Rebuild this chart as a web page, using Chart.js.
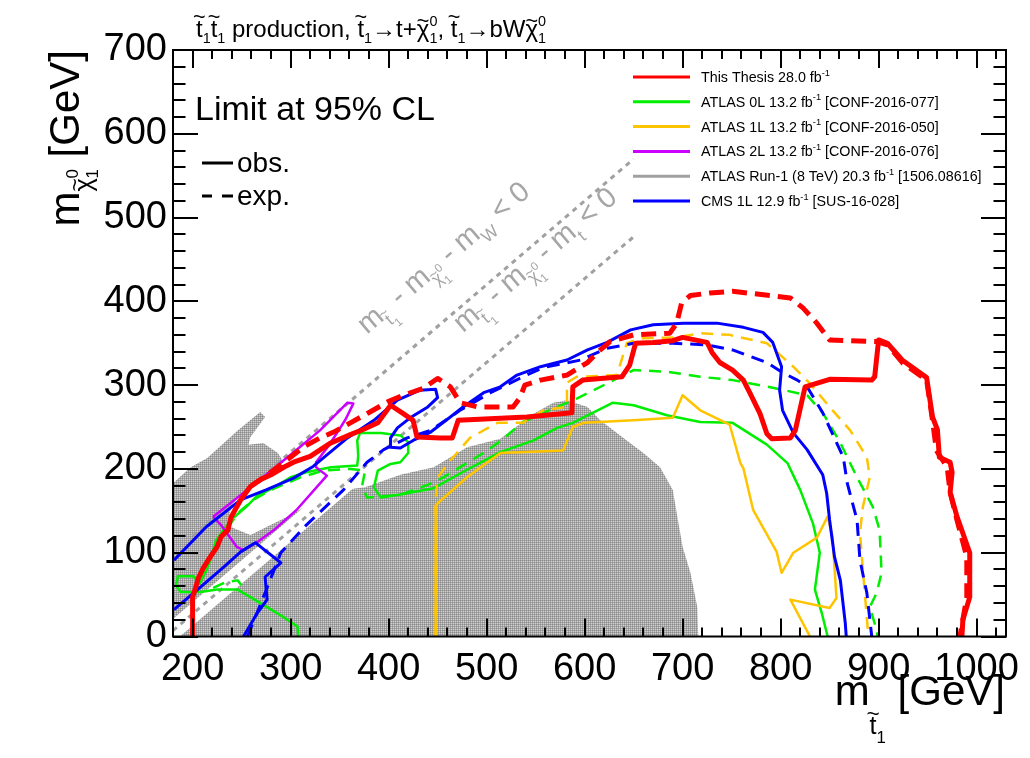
<!DOCTYPE html>
<html>
<head>
<meta charset="utf-8">
<title>Stop pair limits</title>
<script src="https://cdn.jsdelivr.net/npm/chart.js@4.4.1/dist/chart.umd.min.js"></script>
<style>
  html, body { margin: 0; padding: 0; background: #fff; }
</style>
</head>
<body>
<canvas id="chart" width="1030" height="758"></canvas>
<script>
const FONT = '"Liberation Sans", Arial, Helvetica, sans-serif';

// axes
const xRange = [180, 1030];
const yRange = [0, 700];
const xTickLabels = [200, 300, 400, 500, 600, 700, 800, 900, 1000];
const yTickLabels = [0, 100, 200, 300, 400, 500, 600, 700];

// limit contours, [m_stop, m_chi] in GeV
const thesisObs = [[200,0],[200,47],[203,58],[206,70],[211,82],[218,95],[225,107],[229,119],[236,127],[239,142],[249,163],[259,179],[269,187],[280,193],[293,202],[303,208],[320,215],[341,231],[361,241],[374,247],[389,255],[402,276],[415,266],[425,258],[429,238],[453,237],[465,237],[471,258],[541,262],[587,267],[588,298],[598,306],[638,310],[646,324],[652,350],[670,351],[690,353],[700,357],[725,351],[730,339],[738,327],[751,318],[762,306],[769,290],[779,266],[786,242],[791,236],[810,237],[815,246],[825,298],[850,307],[893,306],[896,310],[900,354],[909,350],[924,330],[949,309],[955,262],[960,247],[962,214],[973,208],[975,196],[973,172],[980,143],[993,100],[993,47],[986,20],[985,0]];
const thesisExp = [[259,179],[280,196],[313,226],[330,237],[344,244],[361,255],[381,268],[399,280],[415,288],[435,296],[450,308],[463,298],[473,279],[491,274],[527,274],[534,285],[539,300],[555,306],[582,312],[603,327],[613,339],[626,352],[650,360],[687,362],[694,374],[699,398],[708,407],[728,410],[751,412],[789,407],[810,404],[823,392],[837,374],[850,354],[898,352],[909,348],[925,326],[949,306],[955,258],[959,222],[970,202],[973,172],[980,139],[990,95],[990,47],[983,0]];

const cmsObs = [[181,91],[214,131],[249,163],[275,175],[303,189],[323,203],[358,237],[385,258],[409,282],[432,294],[448,295],[450,285],[440,274],[422,261],[409,249],[402,237],[402,226],[412,225],[425,234],[443,244],[463,262],[476,274],[497,291],[514,298],[531,312],[555,322],[582,330],[603,342],[623,351],[647,366],[670,372],[701,374],[735,374],[762,369],[782,363],[792,351],[801,322],[799,294],[802,270],[813,243],[827,223],[843,193],[847,171],[850,139],[855,95],[861,67],[866,16],[867,0]];
const cmsObsLow = [[252,0],[266,28],[276,44],[274,71],[290,88],[264,112],[249,101],[232,83],[208,59],[181,32]];
const cmsExp = [[256,0],[266,29],[277,61],[290,100],[316,133],[354,175],[378,208],[395,223],[419,237],[443,246],[473,270],[504,291],[537,310],[558,321],[596,330],[623,344],[650,350],[690,350],[725,348],[751,342],[786,327],[802,315],[817,306],[827,298],[843,267],[864,214],[868,183],[878,139],[881,91],[888,52],[893,0]];

const atlas0LObs = [[308,0],[307,12],[293,23],[276,35],[259,47],[246,56],[225,56],[208,53],[188,53],[183,61],[185,72],[201,72],[207,63],[214,79],[218,91],[224,115],[239,139],[255,155],[265,167],[283,178],[300,190],[316,196],[341,202],[368,204],[369,216],[368,234],[371,243],[392,243],[412,240],[420,232],[420,219],[412,208],[402,206],[389,198],[385,178],[392,166],[409,169],[446,177],[480,199],[514,220],[548,234],[572,249],[588,255],[629,279],[650,276],[684,264],[718,256],[751,255],[786,229],[807,207],[820,175],[833,135],[840,100],[835,56],[842,28],[848,0]];
const atlas0LExp = [[224,109],[234,127],[247,148],[262,163],[280,175],[310,190],[334,198],[361,200],[376,198],[373,180],[378,166],[412,169],[440,181],[456,190],[480,207],[501,222],[517,236],[537,256],[568,272],[592,284],[623,302],[650,318],[684,316],[718,310],[751,306],[792,297],[827,288],[843,267],[861,231],[878,190],[894,155],[901,127],[903,76],[898,52],[891,35],[898,8],[899,0]];
const atlas0LExpLow = [[221,58],[234,65],[246,67],[254,55]];

const atlas1LObs = [[448,0],[448,155],[450,159],[480,190],[514,219],[578,222],[588,250],[599,255],[650,258],[690,261],[700,288],[718,270],[748,253],[759,207],[762,201],[772,151],[796,101],[801,76],[813,100],[837,118],[848,143],[853,119],[857,46],[850,34],[810,44],[830,0]];
const atlas1LExp = [[448,0],[448,166],[450,190],[463,210],[483,237],[511,255],[537,255],[558,270],[582,274],[582,303],[592,310],[633,312],[643,350],[657,356],[694,357],[718,362],[748,360],[786,350],[813,322],[830,302],[850,274],[871,246],[888,214],[891,190],[884,155],[881,124],[884,79],[889,8],[887,0]];

const atlas2LObs = [[221,143],[259,178],[300,217],[330,246],[358,279],[364,278],[356,259],[349,246],[339,228],[326,208],[326,202],[337,192],[306,151],[283,127],[265,112],[252,103],[245,107],[229,133],[221,143]];

// ATLAS Run-1 excluded area and the white m_t corridor inside it
const run1Region = [[180,0],[180,183],[198,202],[215,213],[246,246],[269,268],[274,262],[259,238],[257,229],[272,231],[287,219],[293,208],[264,184],[241,159],[234,133],[259,121],[300,145],[341,173],[376,178],[412,193],[446,202],[480,226],[514,236],[548,266],[568,279],[582,282],[603,274],[616,258],[643,234],[660,219],[677,202],[690,175],[694,147],[700,107],[708,76],[715,35],[716,0]];
const run1Corridor = [[180,0],[180,21],[355,196],[375,188],[187,0]];

// kinematic limits m_stop - m_chi = m_W and = m_t
const mWLine = [[200,120],[650,570]];
const mtLine = [[180,7],[650,477]];

const legendLabels = ['This Thesis 28.0 fb', 'ATLAS 0L 13.2 fb', 'ATLAS 1L 13.2 fb', 'ATLAS 2L 13.2 fb', 'ATLAS Run-1 (8 TeV) 20.3 fb', 'CMS 1L 12.9 fb'];
const legendRefs = ['', ' [CONF-2016-077]', ' [CONF-2016-050]', ' [CONF-2016-076]', ' [1506.08616]', ' [SUS-16-028]'];
const legendColors = ['#ff0000', '#00ee00', '#ffc400', '#cc00ff', '#a0a0a0', '#0000ff'];

const pts = (arr) => arr.map(([x, y]) => ({ x, y }));

function line(data, color, width, dash) {
  return {
    data: pts(data),
    showLine: true,
    borderColor: color,
    borderWidth: width,
    borderDash: dash || [],
    pointRadius: 0,
    tension: 0,
    fill: false,
    borderJoinStyle: 'round'
  };
}

// rich text: [text, scale, dy (em), flags] ; flags: '~' tilde, 'n' no advance
function drawRich(ctx, parts, x, y, size, align) {
  let w = 0;
  const items = parts.map(([t, sc = 1, dy = 0, fl = '']) => {
    const fs = size * sc;
    ctx.font = fs + 'px ' + FONT;
    const tw = ctx.measureText(t).width;
    const item = { t, fs, x: w, dy: dy * size, tw, tilde: fl.includes('~') };
    if (!fl.includes('n')) w += tw;
    return item;
  });
  const x0 = align === 'right' ? x - w : align === 'center' ? x - w / 2 : x;
  ctx.textAlign = 'left';
  ctx.textBaseline = 'alphabetic';
  items.forEach((it) => {
    ctx.font = it.fs + 'px ' + FONT;
    ctx.fillText(it.t, x0 + it.x, y + it.dy);
    if (it.tilde) {
      ctx.font = (it.fs * 0.9) + 'px ' + FONT;
      const tw2 = ctx.measureText('~').width;
      const lift = it.t === 'χ' ? 0.38 : 0.55;
      ctx.fillText('~', x0 + it.x + (it.tw - tw2) / 2, y + it.dy - it.fs * lift);
    }
  });
  return w;
}

const run1Plugin = {
  id: 'run1',
  beforeDatasetsDraw(chart) {
    const { ctx, chartArea: a, scales: { x, y } } = chart;
    const tile = document.createElement('canvas');
    tile.width = 2; tile.height = 2;
    const g = tile.getContext('2d');
    g.fillStyle = '#a6a6a6'; g.fillRect(0, 0, 2, 2);
    g.fillStyle = '#8c8c8c'; g.fillRect(0, 0, 1, 1);
    g.fillStyle = '#d2d2d2'; g.fillRect(1, 1, 1, 1);
    const poly = (arr) => {
      ctx.beginPath();
      arr.forEach(([vx, vy], i) => {
        const px = x.getPixelForValue(vx), py = y.getPixelForValue(vy);
        if (i === 0) ctx.moveTo(px, py); else ctx.lineTo(px, py);
      });
      ctx.closePath();
    };
    ctx.save();
    ctx.beginPath();
    ctx.rect(a.left, a.top, a.right - a.left, a.bottom - a.top);
    ctx.clip();
    poly(run1Region);
    ctx.fillStyle = ctx.createPattern(tile, 'repeat');
    ctx.fill();
    poly(run1Corridor);
    ctx.fillStyle = '#ffffff';
    ctx.fill();
    ctx.restore();
  }
};

const framePlugin = {
  id: 'frame',
  afterDatasetsDraw(chart) {
    const { ctx, chartArea: a, scales: { x, y } } = chart;
    ctx.save();
    ctx.strokeStyle = '#000';
    ctx.lineWidth = 2;
    ctx.beginPath();
    for (let v = 180; v <= xRange[1]; v += 20) {
      const px = Math.round(x.getPixelForValue(v));
      const len = v % 100 === 0 ? 18 : 9;
      ctx.moveTo(px, a.bottom); ctx.lineTo(px, a.bottom - len);
      ctx.moveTo(px, a.top); ctx.lineTo(px, a.top + len);
    }
    for (let v = yRange[0]; v <= yRange[1]; v += 20) {
      const py = Math.round(y.getPixelForValue(v));
      const len = v % 100 === 0 ? 25 : 12.5;
      ctx.moveTo(a.left, py); ctx.lineTo(a.left + len, py);
      ctx.moveTo(a.right, py); ctx.lineTo(a.right - len, py);
    }
    ctx.stroke();
    ctx.strokeRect(a.left, a.top, a.right - a.left, a.bottom - a.top);
    ctx.restore();
  }
};

const textPlugin = {
  id: 'texts',
  afterDraw(chart) {
    const { ctx, scales: { x, y } } = chart;
    ctx.save();
    ctx.fillStyle = '#000';

    // title
    drawRich(ctx, [
      ['t', 1, 0, '~'], ['1', 0.6, 0.25], ['t', 1, 0, '~'], ['1', 0.6, 0.25],
      [' production, ', 1, 0],
      ['t', 1, 0, '~'], ['1', 0.6, 0.25], ['→t+', 1, 0],
      ['χ', 1, 0, '~'], ['0', 0.6, -0.45, 'n'], ['1', 0.6, 0.25],
      [', ', 1, 0],
      ['t', 1, 0, '~'], ['1', 0.6, 0.25], ['→bW', 1, 0],
      ['χ', 1, 0, '~'], ['0', 0.6, -0.45, 'n'], ['1', 0.6, 0.25]
    ], 196, 37, 24);

    // y title
    ctx.save();
    ctx.translate(79, 50);
    ctx.rotate(-Math.PI / 2);
    drawRich(ctx, [['m', 1, 0], ['χ', 0.6, 0.3, '~'], ['0', 0.4, -0.02, 'n'], ['1', 0.4, 0.45], [' [GeV]', 1, 0]], 0, 0, 42, 'right');
    ctx.restore();

    // x title
    drawRich(ctx, [['m', 1, 0], ['t', 0.6, 0.7, '~'], ['1', 0.4, 0.9], [' [GeV]', 1, 0]], 1005, 705, 42, 'right');

    // CL box
    drawRich(ctx, [['Limit at 95% CL', 1, 0]], 195, 120, 34);
    drawRich(ctx, [['obs.', 1, 0]], 237, 172, 28);
    drawRich(ctx, [['exp.', 1, 0]], 237, 205, 28);
    ctx.strokeStyle = '#000';
    ctx.lineWidth = 3;
    ctx.beginPath();
    ctx.moveTo(202, 163); ctx.lineTo(233, 163);
    ctx.moveTo(202, 196); ctx.lineTo(212, 196);
    ctx.moveTo(222, 196); ctx.lineTo(233, 196);
    ctx.stroke();

    // legend
    legendLabels.forEach((lab, i) => {
      const ly = 77 + i * 24.8;
      ctx.strokeStyle = legendColors[i];
      ctx.lineWidth = 3;
      ctx.beginPath();
      ctx.moveTo(633, ly); ctx.lineTo(690, ly);
      ctx.stroke();
      ctx.fillStyle = '#000';
      drawRich(ctx, [[lab, 1, 0], ['-1', 0.65, -0.45], [legendRefs[i], 1, 0]], 701, ly + 5, 14.3);
    });

    // kinematic-limit labels along the dashed lines
    const ang = Math.atan2(
      y.getPixelForValue(mtLine[1][1]) - y.getPixelForValue(mtLine[0][1]),
      x.getPixelForValue(mtLine[1][0]) - x.getPixelForValue(mtLine[0][0]));
    const labelAt = [[378, 360, 'W'], [476, 362, 't']];
    ctx.fillStyle = '#a6a6a6';
    labelAt.forEach(([vx, vy, sub]) => {
      ctx.save();
      ctx.translate(x.getPixelForValue(vx), y.getPixelForValue(vy));
      ctx.rotate(ang);
      drawRich(ctx, [
        ['m', 1, 0], ['t', 0.6, 0.3, '~'], ['1', 0.4, 0.5], [' - ', 1, 0],
        ['m', 1, 0], ['χ', 0.6, 0.3, '~'], ['0', 0.4, -0.02, 'n'], ['1', 0.4, 0.5], [' - ', 1, 0],
        ['m', 1, 0], [sub, 0.6, 0.3], [' < 0', 1, 0]
      ], 0, 0, 29);
      ctx.restore();
    });
    ctx.restore();
  }
};

const datasets = [
  line(thesisObs, '#ff0000', 5),
  line(thesisExp, '#ff0000', 5, [15, 8]),
  line(cmsObs, '#0000ff', 3),
  line(cmsObsLow, '#0000ff', 3),
  line(cmsExp, '#0000ff', 3, [13, 8]),
  line(atlas2LObs, '#cc00ff', 2.5),
  line(atlas1LObs, '#ffc400', 2.5),
  line(atlas1LExp, '#ffc400', 2.5, [12, 8]),
  line(atlas0LObs, '#00ee00', 2.5),
  line(atlas0LExp, '#00ee00', 2.5, [12, 8]),
  line(atlas0LExpLow, '#00ee00', 2.5, [12, 8]),
  line(mWLine, '#a0a0a0', 3, [5, 5]),
  line(mtLine, '#a0a0a0', 3, [5, 5])
];

new Chart(document.getElementById('chart'), {
  type: 'scatter',
  data: { datasets },
  options: {
    responsive: false,
    maintainAspectRatio: false,
    devicePixelRatio: 1,
    animation: false,
    events: [],
    layout: { padding: { top: 50, right: 24, left: 0, bottom: 0 } },
    plugins: {
      legend: { display: false },
      tooltip: { enabled: false }
    },
    scales: {
      x: {
        type: 'linear',
        min: xRange[0],
        max: xRange[1],
        grid: { display: false, drawTicks: false },
        border: { display: false },
        afterBuildTicks: (s) => { s.ticks = xTickLabels.map((v) => ({ value: v })); },
        afterFit: (s) => { s.height = 121.5; s.paddingLeft = 0; s.paddingRight = 0; },
        ticks: {
          color: '#000',
          padding: 10,
          maxRotation: 0,
          autoSkip: false,
          callback: (v) => String(v),
          font: { family: FONT, size: 38 }
        }
      },
      y: {
        type: 'linear',
        min: yRange[0],
        max: yRange[1],
        grid: { display: false, drawTicks: false },
        border: { display: false },
        afterBuildTicks: (s) => { s.ticks = yTickLabels.map((v) => ({ value: v })); },
        afterFit: (s) => { s.width = 173; s.paddingTop = 0; s.paddingBottom = 0; },
        ticks: {
          color: '#000',
          padding: 6,
          autoSkip: false,
          callback: (v) => String(v),
          font: { family: FONT, size: 38 }
        }
      }
    }
  },
  plugins: [run1Plugin, framePlugin, textPlugin]
});
</script>
</body>
</html>
